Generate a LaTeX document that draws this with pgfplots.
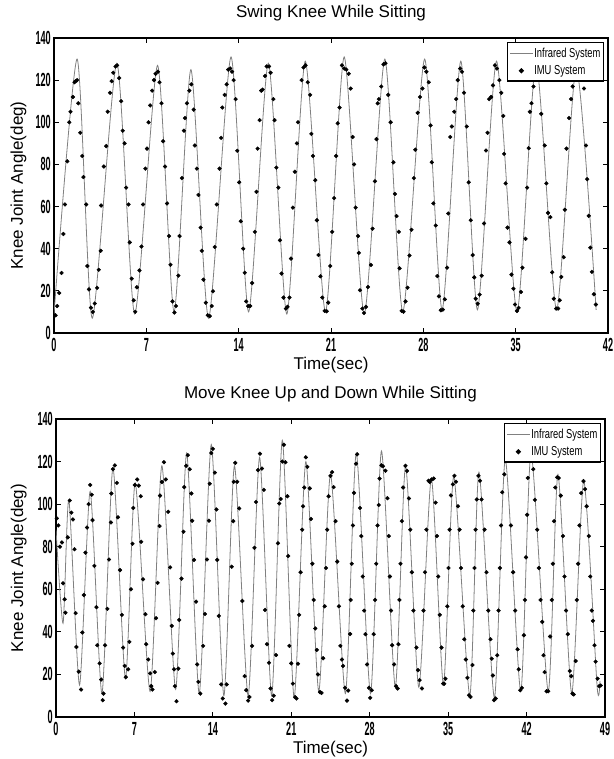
\documentclass[border=0pt]{standalone}
\usepackage{fontspec}
\setmainfont{Liberation Sans}
\usepackage{graphicx}
\usepackage{pgfplots}
\pgfplotsset{compat=1.18}
\definecolor{irgray}{RGB}{128,128,128}
\newcommand\tickfont{\fontsize{19}{20}\selectfont\bfseries}
\newcommand\cond[1]{\scalebox{0.48}[1]{#1}}
\pgfplotsset{
 knee/.style={
  scale only axis, anchor=south west,
  ymin=0, ymax=140, ytick={0,20,...,140},
  axis line style={line width=1.3pt},
  tick style={line width=0.8pt, black},
  tick align=inside, major tick length=5pt,
  xticklabel={\cond{\tickfont\pgfmathprintnumber[assume math mode=true]{\tick}}},
  yticklabel={\cond{\tickfont\pgfmathprintnumber[assume math mode=true]{\tick}}},
  xticklabel style={inner sep=0pt, anchor=north, yshift=-5pt},
  yticklabel style={inner sep=0pt, anchor=east, xshift=-3pt},
  label style={font=\fontsize{17}{20}\selectfont},
  title style={font=\fontsize{17}{20}\selectfont, at={(axis description cs:0.5,1)}, anchor=center, yshift=19pt},
  xlabel style={at={(axis description cs:0.5,0)}, anchor=center, yshift=-32pt},
  ylabel style={at={(axis description cs:-0.064,0.5)}, anchor=center},
  legend cell align=left,
  legend style={at={(axis description cs:1,1)}, anchor=north east, xshift=-4pt, yshift=-4pt,
    draw=black, line width=1.2pt, fill=white, inner xsep=2pt, inner ysep=4pt,
    font=\fontsize{13}{13}\selectfont, row sep=5pt, nodes={inner sep=1pt}},
 },
 irline/.style={color=irgray, line width=0.8pt, smooth, tension=0.4, no markers,
   legend image code/.code={\draw[##1] (0pt,0pt) -- (23pt,0pt);}},
 imudots/.style={only marks, mark=*, mark size=1.9pt, black,
   legend image code/.code={\draw[mark repeat=2,mark phase=2,##1] plot coordinates {(0pt,0pt)(11.5pt,0pt)(23pt,0pt)};}},
}
\begin{document}
\begin{tikzpicture}
\path[use as bounding box] (0,0) rectangle (613pt,759pt);
% ---------------- top panel ----------------
\begin{axis}[knee, at={(54pt,426pt)}, width=554pt, height=295pt,
  xmin=0, xmax=42, xtick={0,7,...,42},
  title={Swing Knee While Sitting}, xlabel={Time(sec)}, ylabel={Knee Joint Angle(deg)}]
\addplot[irline] coordinates {
(0,9) (1.75,130) (2.90,7) (4.76,128) (6.12,9) (7.85,127) (9.10,10) (10.38,125) (11.72,7)
(13.42,131) (14.75,10) (16.25,128) (17.65,9) (19.05,129) (20.58,10) (22.0,131) (23.52,9)
(25.08,130) (26.44,10) (28.1,130) (29.42,11) (30.84,129) (32.1,11) (33.55,129) (35.1,10)
(36.55,128) (38.1,11) (39.6,126) (41.1,11)};
\addlegendentry{\scalebox{0.72}[1]{Infrared System}}
\addplot[imudots] coordinates {
(0.12,8.4)(0.24,12.8)(0.39,19)(0.57,28.5)(0.71,47)(0.83,61)(1.01,81.5)(1.16,100)(1.25,105)(1.43,112)(1.55,119)(1.64,119.5)(1.75,120)
(1.84,109)(1.99,95)(2.14,84)(2.23,74)(2.44,61)(2.53,31.8)(2.65,20.7)(2.80,12)(2.94,10)
(3.09,14)(3.27,21.4)(3.39,30)(3.54,39)(3.57,60.5)(3.78,79)(3.96,88.7)(4.07,105)(4.25,114)(4.37,119.5)(4.49,123.5)(4.67,126.5)(4.79,127)
(4.94,121)(5.09,110)(5.21,96)(5.35,90)(5.47,69)(5.65,61)(5.74,43)(5.89,25.8)(6.04,15.5)(6.16,10.1)
(6.28,21.7)(6.48,29.7)(6.63,41)(6.75,61)(6.93,78)(7.05,87.5)(7.17,100)(7.29,108)(7.44,115)(7.58,120)(7.70,123)(7.88,124)
(8.00,119)(8.15,109)(8.27,91)(8.42,79)(8.57,61.5)(8.72,46)(8.83,32.4)(8.98,15)(9.13,9.7)
(9.25,12.8)(9.43,27.2)(9.52,46)(9.70,73.5)(9.85,96)(9.93,102)(10.08,109)(10.26,115)(10.41,118)
(10.59,106)(10.68,89)(10.83,78)(10.95,65.5)(11.12,50)(11.21,39)(11.33,25.3)(11.51,14.4)(11.66,8.4)(11.81,8)
(11.96,12.8)(12.05,19.8)(12.19,40.8)(12.34,61)(12.55,78)(12.67,92.6)(12.76,107)(12.94,113)(13.09,118)(13.21,125)(13.36,125.5)(13.50,124)
(13.62,120)(13.77,111)(13.89,86.5)(14.04,71.5)(14.16,53)(14.34,40)(14.46,28.6)(14.57,15)(14.72,12.8)(14.87,12.8)
(15.02,23.7)(15.23,48)(15.35,67)(15.44,87.5)(15.59,101)(15.71,115)(15.82,115.5)(16.00,122)(16.12,126.5)(16.30,126.5)(16.42,123.5)
(16.63,111)(16.72,101)(16.86,78.5)(17.01,69)(17.13,44)(17.25,28.2)(17.40,16.8)(17.58,11.6)(17.70,12.4)(17.85,16.8)
(17.97,35.3)(18.11,59.5)(18.26,76.5)(18.41,90)(18.50,100)(18.77,120)(18.92,126)(19.07,127)
(19.24,119)(19.42,113)(19.51,94.5)(19.63,84)(19.81,72.5)(19.93,53.5)(20.05,37)(20.20,26.9)(20.34,16.8)(20.52,10.5)(20.67,10.3)
(20.79,14.4)(20.94,31.8)(21.09,48)(21.24,64)(21.39,84)(21.51,99.5)(21.65,107)(21.83,127)(22.01,125.5)
(22.16,125)(22.34,123)(22.49,116)(22.64,93)(22.75,80)(22.87,59.5)(23.05,46)(23.11,38)(23.20,20.3)(23.38,11.6)(23.50,9.5)(23.65,12.4)
(23.80,21.8)(24.03,32.3)(24.15,49.5)(24.33,72)(24.45,92)(24.54,109)(24.63,111)(24.81,117)(24.98,127.5)(25.13,128)
(25.34,113)(25.52,100)(25.73,81)(25.85,66)(25.97,55.5)(26.14,48)(26.20,30.7)(26.35,10.5)(26.50,10.1)
(26.65,15)(26.80,21.5)(26.95,36.8)(27.10,49)(27.28,73.5)(27.39,87)(27.57,104.5)(27.75,112)(27.93,116)(28.08,126)(28.23,124)
(28.41,119)(28.55,98.5)(28.64,81)(28.76,61.5)(28.94,51)(29.06,27)(29.18,17.4)(29.33,10.8)(29.48,11.1)
(29.63,16)(29.80,31)(29.89,56.7)(30.04,93)(30.16,98)(30.34,105)(30.49,111)(30.61,120)(30.79,125.5)(30.93,124)
(31.08,114)(31.29,98)(31.44,71.5)(31.59,53.5)(31.74,37)(31.86,26.4)(31.97,16.3)(32.12,13.9)
(32.27,18.2)(32.42,27.2)(32.60,52)(32.75,86.6)(32.87,95)(32.99,111)(33.14,112)(33.28,117.5)(33.43,127)(33.58,125.5)
(33.76,120)(33.91,114)(34.06,103)(34.12,85)(34.24,71)(34.38,50)(34.53,43)(34.68,27.7)(34.83,21)(34.95,13.5)(35.10,10.5)(35.22,11.9)
(35.40,19.5)(35.51,31)(35.75,44.7)(35.87,69)(35.99,87.7)(36.08,105)(36.20,109)(36.35,117)(36.50,123)(36.70,121)
(36.94,104)(37.20,89)(37.33,71)(37.45,57)(37.63,55)(37.77,28.8)(37.89,16.3)(38.07,11.6)(38.22,11.6)
(38.34,15.5)(38.46,26.6)(38.64,36)(38.73,58.5)(38.85,87.5)(39.05,102)(39.20,111)(39.32,117)(39.5,121)(39.9,122)
(40.18,116)(40.33,89)(40.42,73)(40.54,55.6)(40.66,40.5)(40.78,29)(40.93,18.4)(41.08,13.5)};
\addlegendentry{\scalebox{0.72}[1]{IMU System}}
\end{axis}
% ---------------- bottom panel ----------------
\begin{axis}[knee, at={(56pt,42pt)}, width=549pt, height=298pt,
  xmin=0, xmax=49, xtick={0,7,...,49},
  title={Move Knee Up and Down While Sitting}, xlabel={Time(sec)}, ylabel={Knee Joint Angle(deg)},
  ylabel style={at={(axis description cs:-0.068,0.5)}}]
\addplot[irline] coordinates {
(0,88) (0.63,44) (1.15,102) (2.1,15) (3.05,106) (4.1,11) (5.08,117) (6.2,18) (7.07,110) (8.4,12)
(9.45,118) (10.68,13) (11.66,124) (12.78,11) (13.86,128) (14.98,10) (15.93,118) (17.15,10)
(18.17,122) (19.25,10) (20.2,130) (21.25,9) (22.3,120) (23.45,12) (24.5,114) (25.83,11)
(26.8,124) (28.07,11) (29.05,125) (30.28,14) (31.2,118) (32.38,14) (33.5,112) (34.58,15)
(35.5,113) (36.93,10) (37.75,115) (39.13,9) (40.1,121) (41.48,12) (42.4,124) (43.93,12)
(44.8,114) (46.03,11) (47.1,111) (48.3,14) (48.55,17)};
\addlegendentry{\scalebox{0.72}[1]{Infrared System}}
\addplot[imudots] coordinates {
(0.07,93.3)(0.21,90)(0.35,80)(0.53,82)(0.63,62.8)(0.77,55.3)(0.84,49)(1.05,84.4)(1.23,101.7)(1.37,96)(1.51,92.8)(1.65,78.8)(1.75,48.8)(1.82,32.9)(2.03,21.3)(2.24,12.9)(2.35,39.7)
(2.49,57.3)(2.63,77.2)(2.77,89)(2.91,100)(3.05,109)(3.19,104.4)(3.26,92.5)(3.43,71)(3.61,51.6)(3.68,33.7)(3.89,25.2)(4.03,17.6)(4.17,7.9)(4.24,11)(4.38,33.7)
(4.59,50.8)(4.73,74)(4.90,91.4)(4.94,105)(5.08,116.4)(5.25,118.2)(5.43,110)(5.53,93.8)(5.71,69)(5.88,48)(5.99,32.6)(6.13,24)(6.23,18.7)(6.44,22.4)(6.55,35.3)
(6.69,60)(6.83,81.4)(6.90,98.2)(7.04,109)(7.25,111.6)(7.39,108.7)(7.56,103.7)(7.60,82.3)(7.77,64.7)(7.98,48.3)(8.05,34.2)(8.23,27)(8.40,20.5)(8.50,14.5)(8.61,12.9)(8.82,21.1)
(8.93,46.4)(9.07,63)(9.24,89.7)(9.28,104)(9.45,110.4)(9.63,119.7)(9.80,111.6)(10.01,96.4)(10.19,70.3)(10.33,42.8)(10.43,29.8)(10.54,22.4)(10.61,14.5)(10.75,7.4)(10.92,22.7)
(11.0,45.6)(11.2,65)(11.38,87)(11.45,108)(11.62,118)(11.76,123)(11.94,116.4)(12.08,105)(12.15,92.2)(12.32,73.8)(12.50,54.2)(12.6,24.7)(12.71,16.5)(12.88,11)(13.13,33.4)
(13.30,48.4)(13.48,74)(13.65,92.2)(13.72,109.6)(13.86,124)(14.0,126)(14.18,114.8)(14.32,97.5)(14.39,73.8)(14.53,47.5)(14.74,15.3)(14.88,8.7)(15.12,6.3)(15.23,15.3)
(15.68,70.6)(15.82,92)(15.86,110.5)(16.0,119.4)(16.17,110.5)(16.35,98)(16.63,54.5)(16.84,19.2)(16.98,12.6)(17.15,7.7)(17.26,9.4)(17.5,33.4)
(17.71,79.5)(17.85,101)(18.03,116)(18.2,123.7)(18.38,116.7)(18.55,106.7)(18.66,50.3)(18.83,34.2)(19.01,25.5)(19.15,13.4)(19.29,7.9)(19.43,10)(19.64,29.1)
(19.81,81.6)(19.92,100.3)(20.06,102.4)(20.2,120)(20.34,127.9)(20.48,119.7)(20.65,103.7)(20.72,75.6)(20.83,33.4)(21.0,25.2)(21.14,15.7)(21.35,9.3)(21.46,8.7)(21.6,25)
(21.7,48)(21.83,68)(21.97,88)(22.05,99)
(22.16,107.8)(22.3,122)(22.44,117.5)(22.65,107.4)
(22.75,93)(22.88,72)(23.0,55)
(23.14,41.6)(23.28,31.5)(23.38,20)(23.56,11.7)(23.7,11.3)(23.84,27.6)
(23.98,52)(24.1,70)(24.2,88)
(24.33,103.7)(24.5,113.3)(24.64,115)(24.78,108)
(24.95,92)(25.1,73)(25.25,52)
(25.38,33.4)(25.52,27)(25.62,24)(25.8,13.7)(25.97,7.7)(26.08,12.4)(26.25,39)
(26.3,55)(26.4,72)(26.5,90)
(26.6,105.3)(26.78,119)(26.88,123.4)(27.13,98.2)
(27.25,85)(27.38,66)(27.5,50)
(27.62,38.9)(27.76,24.7)(27.93,13.7)(28.04,9)(28.18,12.6)(28.35,38.9)
(28.48,55)(28.58,72)(28.7,90)
(28.81,99.6)(28.88,112)(29.05,118.2)(29.19,117.8)(29.4,115.7)(29.58,102.8)
(29.7,85)(29.8,66)(29.9,50)
(30.0,33.7)(30.17,24.7)(30.35,14.5)(30.49,13.4)(30.56,34.2)
(30.65,55)(30.75,72)(30.87,92)
(30.98,107.8)(31.19,118)(31.33,115.6)(31.5,102.7)
(31.62,88)(31.76,68)(31.9,50)
(32.17,32.6)(32.31,22)(32.45,17.3)(32.66,13.4)
(32.8,50)(32.93,68)(33.06,88)
(33.25,111)(33.36,110.4)(33.53,111.6)(33.71,112)(33.88,100.7)
(34.0,85)(34.12,66)(34.25,48)
(34.41,32.6)(34.55,15.7)(34.65,15.6)(34.76,18)
(34.93,52)(35.03,70)(35.13,88)
(35.25,104.1)(35.42,109.3)(35.56,113.3)(35.7,110.5)(35.88,99)
(36.02,88)(36.15,70)(36.3,52)
(36.44,36.5)(36.58,27)(36.72,18.4)(36.86,10.2)(37.0,9.4)(37.17,24.4)
(37.25,50)(37.35,70)(37.45,88)
(37.56,102.2)(37.7,113.3)(37.84,111)(37.98,102.2)
(38.25,88)(38.42,68)(38.58,50)
(38.78,36.5)(38.89,27.4)(38.99,19.5)(39.1,7.9)(39.24,8.7)(39.38,29)
(39.5,50)(39.62,70)(39.72,90)
(39.83,105.6)(40.01,114)
(40.6,90)(40.8,68)(40.98,50)
(41.2,31.8)(41.3,22.4)(41.44,12.6)(41.58,13.7)(41.76,38.4)
(41.85,55)(41.95,75)(42.05,95)
(42.11,112.3)(42.6,116.4)(42.74,102)
(42.95,88)(43.1,70)(43.25,55)
(43.4,44.7)(43.51,29)(43.61,21.1)(43.79,12.1)(43.93,12.1)(44.1,37.8)
(44.25,55)(44.35,72)(44.45,92)
(44.56,107.8)(44.73,112.6)(44.87,112.3)(45.05,104)
(45.25,85)(45.38,66)(45.52,50)
(45.68,38.9)(45.85,21.6)(45.99,19.2)(46.1,11)(46.2,10.6)(46.38,26.3)
(46.48,55)(46.6,72)(46.72,90)
(46.87,105.2)(47.08,110.8)(47.22,107)(47.36,99)
(47.55,85)(47.68,66)(47.82,50)
(47.92,45.2)(48.06,33.7)(48.16,26)(48.34,18)(48.48,14.5)(48.62,14.8)};
\addlegendentry{\scalebox{0.72}[1]{IMU System}}
\end{axis}
\end{tikzpicture}
\end{document}
